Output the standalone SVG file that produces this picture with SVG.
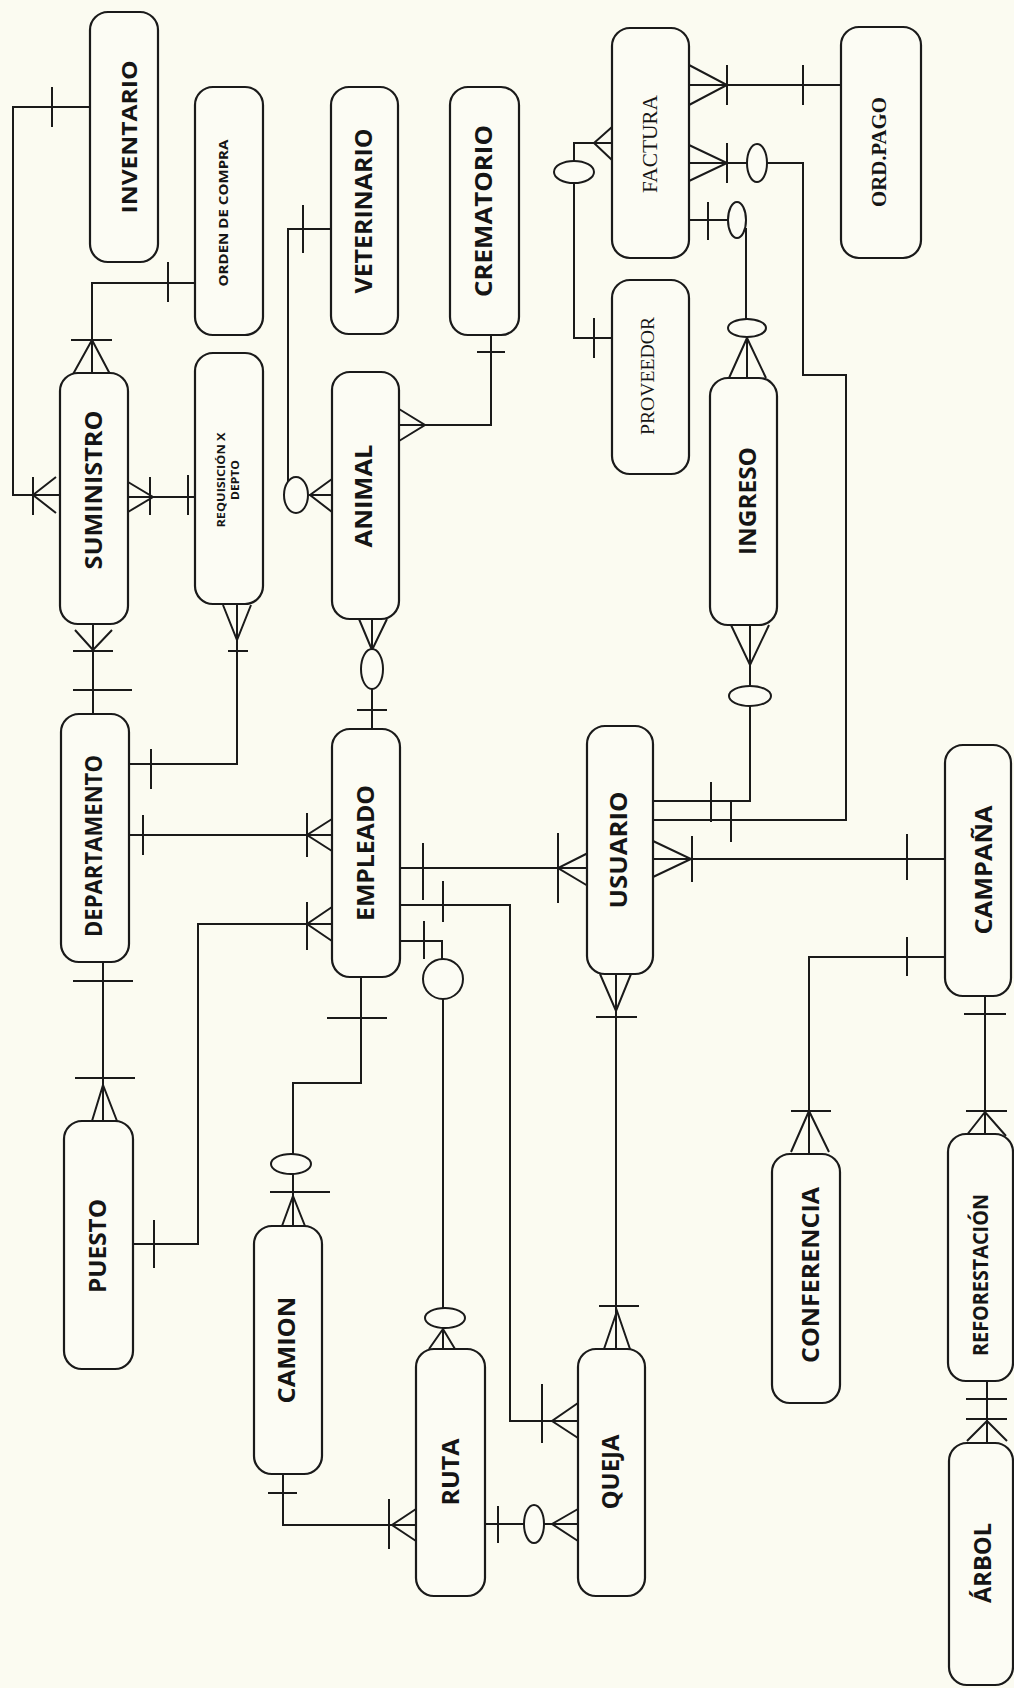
<svg xmlns="http://www.w3.org/2000/svg" width="1014" height="1688" viewBox="0 0 1014 1688">
<style>
.bg{fill:#fbfbf1}
.box{fill:#fcfcf4;stroke:#1a1a1a;stroke-width:2.2}
.ln{fill:none;stroke:#1a1a1a;stroke-width:2}
.ov{fill:#fcfcf4;stroke:#1a1a1a;stroke-width:2}
.t{font-family:"Open Sans","Liberation Sans",sans-serif;font-weight:700;fill:#151515;text-anchor:middle}
.s{font-family:"Liberation Serif","Times New Roman",serif;fill:#151515;text-anchor:middle}
</style>
<rect class="bg" x="0" y="0" width="1014" height="1688"/>

<g id="connectors">
<!-- INVENTARIO - SUMINISTRO -->
<polyline class="ln" points="90,107 13,107 13,495 60,495"/>
<path class="ln" d="M52,87V127 M33,477V515 M33,495L56,477 M33,495L56,513"/>
<!-- ORDEN DE COMPRA - SUMINISTRO -->
<polyline class="ln" points="195,283 92,283 92,373"/>
<path class="ln" d="M168,262V302 M71,340H112 M92,340L72,376 M92,340L111,376"/>
<!-- SUMINISTRO - REQUISICION -->
<path class="ln" d="M128,497H195 M128,482L153,497L128,512 M150,477V515 M188,475V515"/>
<!-- SUMINISTRO - DEPARTAMENTO -->
<path class="ln" d="M93,624V714 M75,630L93,650L112,630 M73,651H113 M73,690H132"/>
<!-- REQUISICION - DEPARTAMENTO -->
<polyline class="ln" points="237,604 237,764 128,764"/>
<path class="ln" d="M223,605L237,640L251,605 M228,651H248 M151,749V789"/>
<!-- DEPARTAMENTO - EMPLEADO -->
<path class="ln" d="M128,835H332 M143,815V855 M332,819L307,835L332,851 M307,813V857"/>
<!-- PUESTO - EMPLEADO -->
<polyline class="ln" points="133,1244 198,1244 198,924 332,924"/>
<path class="ln" d="M154,1220V1268 M332,907L307,924L332,941 M307,902V950"/>
<!-- DEPARTAMENTO - PUESTO -->
<path class="ln" d="M103,962V1121 M73,981H133 M75,1078H135 M92,1121L103,1085L117,1121"/>
<!-- EMPLEADO - ANIMAL -->
<path class="ln" d="M372,729V689 M372,649V619 M357,710H387 M359,619L372,650L387,619"/>
<ellipse class="ov" cx="372" cy="669" rx="11" ry="20"/>
<!-- ANIMAL - CREMATORIO -->
<polyline class="ln" points="491,335 491,425 399,425"/>
<path class="ln" d="M477,352H505 M399,409L425,425L399,441"/>
<!-- VETERINARIO - ANIMAL -->
<polyline class="ln" points="331,229 288,229 288,482"/>
<path class="ln" d="M303,205V253 M309,495H332 M332,479L310,495L332,512"/>
<ellipse class="ov" cx="296" cy="495" rx="12" ry="18"/>
<!-- FACTURA - ORD.PAGO -->
<path class="ln" d="M689,85H841 M689,65L727,85L689,105 M727,65V105 M803,65V105"/>
<!-- FACTURA - USUARIO -->
<path class="ln" d="M689,163H747 M689,145L727,163L689,181 M727,143V183"/>
<polyline class="ln" points="767,163 803,163 803,375 846,375 846,820 653,820"/>
<path class="ln" d="M731,802V842"/>
<ellipse class="ov" cx="757" cy="163" rx="10" ry="19"/>
<!-- FACTURA - PROVEEDOR -->
<path class="ln" d="M612,127L594,143L612,160 M594,143H612 M594,143H574V161 M574,183V338H612 M594,318V358"/>
<ellipse class="ov" cx="574" cy="172" rx="20" ry="11"/>
<!-- FACTURA - INGRESO -->
<path class="ln" d="M689,220H728 M708,202V240 M746,228V319 M747,338V378 M729,378L747,338L766,378"/>
<ellipse class="ov" cx="737" cy="220" rx="9" ry="18"/>
<ellipse class="ov" cx="747" cy="328" rx="19" ry="9"/>
<!-- INGRESO - USUARIO -->
<path class="ln" d="M731,625L750,665L769,625 M750,625V686"/>
<polyline class="ln" points="750,706 750,801 653,801"/>
<path class="ln" d="M711,782V822"/>
<ellipse class="ov" cx="750" cy="696" rx="21" ry="10"/>
<!-- EMPLEADO - USUARIO -->
<path class="ln" d="M400,868H588 M423,843V900 M588,853L558,868L588,886 M558,833V903"/>
<!-- EMPLEADO - QUEJA -->
<polyline class="ln" points="400,905 510,905 510,1421 578,1421"/>
<path class="ln" d="M443,881V922 M578,1403L552,1421L578,1438 M542,1384V1443"/>
<!-- EMPLEADO - RUTA -->
<polyline class="ln" points="400,941 442,941 442,959"/>
<path class="ln" d="M424,921V959 M443,999V1308 M443,1328V1349 M429,1349L443,1329L455,1349"/>
<circle class="ov" cx="443" cy="979" r="20"/>
<ellipse class="ov" cx="445" cy="1318" rx="20" ry="10"/>
<!-- CAMION - EMPLEADO -->
<polyline class="ln" points="361,977 361,1083 293,1083 293,1154"/>
<path class="ln" d="M327,1018H387 M293,1174V1226 M270,1192H330 M282,1226L293,1196L305,1226"/>
<ellipse class="ov" cx="291" cy="1164" rx="20" ry="10"/>
<!-- CAMION - RUTA -->
<polyline class="ln" points="283,1474 283,1525 416,1525"/>
<path class="ln" d="M268,1493H297 M389,1499V1549 M416,1509L392,1525L416,1541"/>
<!-- RUTA - QUEJA -->
<path class="ln" d="M485,1524H524 M544,1524H578 M498,1506V1543 M578,1509L552,1524L578,1541"/>
<ellipse class="ov" cx="534" cy="1524" rx="10" ry="19"/>
<!-- USUARIO - QUEJA -->
<path class="ln" d="M616,974V1349 M600,974L616,1011L631,974 M596,1017H637 M604,1349L617,1311L630,1349 M599,1306H639"/>
<!-- USUARIO - CAMPANA -->
<path class="ln" d="M653,859H945 M653,841L691,859L653,877 M692,836V882 M907,834V880"/>
<!-- CAMPANA - CONFERENCIA -->
<polyline class="ln" points="945,957 809,957 809,1154"/>
<path class="ln" d="M907,937V976 M791,1111H831 M791,1152L809,1111L829,1152"/>
<!-- CAMPANA - REFORESTACION -->
<path class="ln" d="M985,996V1134 M964,1014H1006 M966,1111H1007 M966,1136L985,1112L1006,1136"/>
<!-- REFORESTACION - ARBOL -->
<path class="ln" d="M987,1381V1443 M966,1399H1007 M966,1419H1007 M967,1441L987,1421L1007,1441"/>
</g>

<g id="inventario"><rect class="box" x="90" y="12" width="68" height="250" rx="18"/><text class="t" transform="translate(129 137) rotate(-90)" y="7.5" font-size="21" textLength="153" lengthAdjust="spacingAndGlyphs">INVENTARIO</text></g>
<g id="orden_compra"><rect class="box" x="195" y="87" width="68" height="248" rx="18"/><text class="t" transform="translate(223 213) rotate(-90)" y="4.6" font-size="13" textLength="147" lengthAdjust="spacingAndGlyphs">ORDEN DE COMPRA</text></g>
<g id="suministro"><rect class="box" x="60" y="373" width="68" height="251" rx="18"/><text class="t" transform="translate(94 490) rotate(-90)" y="8.2" font-size="23" textLength="159" lengthAdjust="spacingAndGlyphs">SUMINISTRO</text></g>
<g id="requisicion"><rect class="box" x="195" y="353" width="68" height="251" rx="18"/><text class="t" transform="translate(221 480) rotate(-90)" y="4" font-size="11" textLength="95" lengthAdjust="spacingAndGlyphs">REQUISICIÓN X</text><text class="t" transform="translate(235 480) rotate(-90)" y="4" font-size="11" textLength="40" lengthAdjust="spacingAndGlyphs">DEPTO</text></g>
<g id="departamento"><rect class="box" x="61" y="714" width="68" height="248" rx="18"/><text class="t" transform="translate(94 846) rotate(-90)" y="8.2" font-size="23" textLength="182" lengthAdjust="spacingAndGlyphs">DEPARTAMENTO</text></g>
<g id="puesto"><rect class="box" x="64" y="1121" width="69" height="248" rx="18"/><text class="t" transform="translate(98 1246) rotate(-90)" y="8.2" font-size="23" textLength="94" lengthAdjust="spacingAndGlyphs">PUESTO</text></g>
<g id="empleado"><rect class="box" x="332" y="729" width="68" height="248" rx="18"/><text class="t" transform="translate(366 853) rotate(-90)" y="8.2" font-size="23" textLength="136" lengthAdjust="spacingAndGlyphs">EMPLEADO</text></g>
<g id="animal"><rect class="box" x="332" y="372" width="67" height="247" rx="18"/><text class="t" transform="translate(364 496) rotate(-90)" y="8.2" font-size="23" textLength="103" lengthAdjust="spacingAndGlyphs">ANIMAL</text></g>
<g id="veterinario"><rect class="box" x="331" y="87" width="67" height="247" rx="18"/><text class="t" transform="translate(364 211) rotate(-90)" y="8.2" font-size="23" textLength="165" lengthAdjust="spacingAndGlyphs">VETERINARIO</text></g>
<g id="crematorio"><rect class="box" x="450" y="87" width="69" height="248" rx="18"/><text class="t" transform="translate(483 211) rotate(-90)" y="8.6" font-size="24" textLength="172" lengthAdjust="spacingAndGlyphs">CREMATORIO</text></g>
<g id="camion"><rect class="box" x="254" y="1226" width="68" height="248" rx="18"/><text class="t" transform="translate(287 1350) rotate(-90)" y="8.2" font-size="23" textLength="107" lengthAdjust="spacingAndGlyphs">CAMION</text></g>
<g id="ruta"><rect class="box" x="416" y="1349" width="69" height="247" rx="18"/><text class="t" transform="translate(451 1472) rotate(-90)" y="8.2" font-size="23" textLength="67" lengthAdjust="spacingAndGlyphs">RUTA</text></g>
<g id="queja"><rect class="box" x="578" y="1349" width="67" height="247" rx="18"/><text class="t" transform="translate(611 1472) rotate(-90)" y="8.2" font-size="23" textLength="75" lengthAdjust="spacingAndGlyphs">QUEJA</text></g>
<g id="usuario"><rect class="box" x="587" y="726" width="66" height="248" rx="18"/><text class="t" transform="translate(619 850) rotate(-90)" y="8.2" font-size="23" textLength="117" lengthAdjust="spacingAndGlyphs">USUARIO</text></g>
<g id="factura"><rect class="box" x="612" y="28" width="77" height="230" rx="18"/><text class="s" transform="translate(650 144) rotate(-90)" y="7" font-size="21" textLength="98" lengthAdjust="spacingAndGlyphs">FACTURA</text></g>
<g id="proveedor"><rect class="box" x="612" y="280" width="77" height="194" rx="18"/><text class="s" transform="translate(648 376) rotate(-90)" y="6.3" font-size="19" textLength="118" lengthAdjust="spacingAndGlyphs">PROVEEDOR</text></g>
<g id="ordpago"><rect class="box" x="841" y="27" width="80" height="231" rx="18"/><text class="s" transform="translate(879 152) rotate(-90)" y="7" font-size="21" font-weight="700" textLength="110" lengthAdjust="spacingAndGlyphs">ORD.PAGO</text></g>
<g id="ingreso"><rect class="box" x="710" y="378" width="67" height="247" rx="18"/><text class="t" transform="translate(748 501) rotate(-90)" y="8.2" font-size="23" textLength="108" lengthAdjust="spacingAndGlyphs">INGRESO</text></g>
<g id="campana"><rect class="box" x="945" y="745" width="66" height="251" rx="18"/><text class="t" transform="translate(984 870) rotate(-90)" y="8.2" font-size="23" textLength="129" lengthAdjust="spacingAndGlyphs">CAMPAÑA</text></g>
<g id="conferencia"><rect class="box" x="772" y="1154" width="68" height="249" rx="18"/><text class="t" transform="translate(811 1275) rotate(-90)" y="8.2" font-size="23" textLength="176" lengthAdjust="spacingAndGlyphs">CONFERENCIA</text></g>
<g id="reforestacion"><rect class="box" x="948" y="1134" width="65" height="247" rx="18"/><text class="t" transform="translate(980 1275) rotate(-90)" y="7.5" font-size="21" textLength="162" lengthAdjust="spacingAndGlyphs">REFORESTACIÓN</text></g>
<g id="arbol"><rect class="box" x="949" y="1443" width="64" height="242" rx="18"/><text class="t" transform="translate(983 1563) rotate(-90)" y="8.2" font-size="23" textLength="80" lengthAdjust="spacingAndGlyphs">ÁRBOL</text></g>
</svg>
